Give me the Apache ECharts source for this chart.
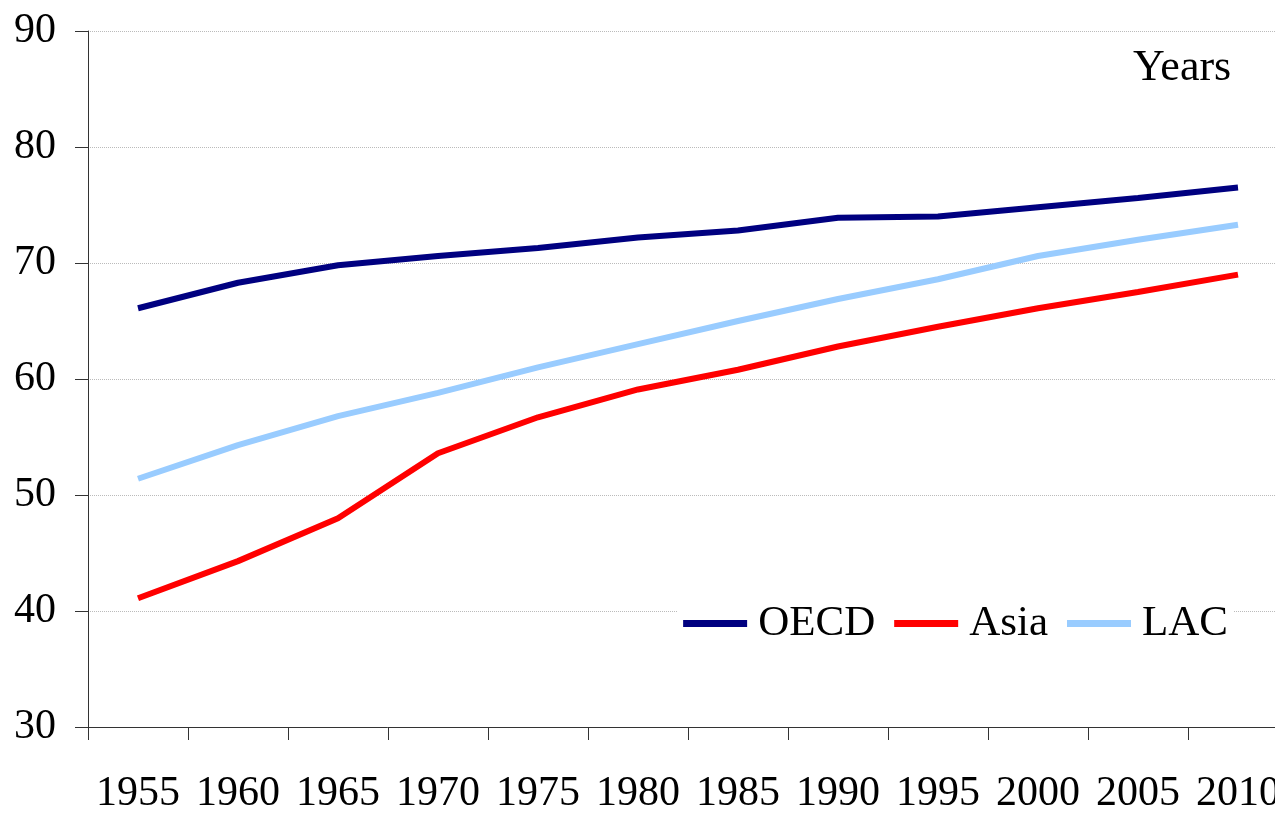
<!DOCTYPE html>
<html><head><meta charset="utf-8">
<script src="https://cdn.jsdelivr.net/npm/echarts@6/dist/echarts.min.js"></script>
<style>html,body{margin:0;padding:0;background:#fff;overflow:hidden;width:1275px;height:815px}
#wrap{width:1275px;height:815px;overflow:hidden;position:relative}
#c{position:absolute;left:0;top:0;width:1292px;height:815px}</style>
</head><body><div id="wrap"><div id="c"></div></div>
<script>
const years = ['1955','1960','1965','1970','1975','1980','1985','1990','1995','2000','2005','2010'];
const oecd = [66.1, 68.3, 69.8, 70.6, 71.3, 72.2, 72.8, 73.9, 74.0, 74.8, 75.6, 76.5];
const asia = [41.1, 44.3, 48.0, 53.6, 56.7, 59.1, 60.8, 62.8, 64.5, 66.1, 67.5, 69.0];
const lac  = [51.4, 54.3, 56.8, 58.8, 61.0, 63.0, 65.0, 66.9, 68.6, 70.6, 72.0, 73.3];
const yTicks = {min: 30, max: 90, interval: 10};
const unitLabel = 'Years';

const font = '"Liberation Serif", "DejaVu Serif", serif';
const chart = echarts.init(document.getElementById('c'), null, {renderer: 'canvas', width: 1292, height: 815});
chart.setOption({
  animation: false,
  backgroundColor: '#fff',
  grid: {left: 88, top: 31, width: 1200, height: 702, containLabel: false},
  xAxis: {
    type: 'category', data: years, boundaryGap: true,
    axisLine: {show: true, lineStyle: {color: '#333', width: 1}},
    axisTick: {show: true, inside: false, length: 13, alignWithLabel: false, lineStyle: {color: '#333'}},
    axisLabel: {interval: 0, margin: 46, color: '#000', fontFamily: font, fontSize: 42},
    splitLine: {show: false}
  },
  yAxis: {
    type: 'value', min: yTicks.min, max: yTicks.max, interval: yTicks.interval,
    axisLine: {show: true, lineStyle: {color: '#333', width: 1}},
    axisTick: {show: true, inside: false, length: 13, lineStyle: {color: '#333'}},
    axisLabel: {margin: 32, color: '#000', fontFamily: font, fontSize: 42},
    splitLine: {show: true, lineStyle: {color: '#bbb', type: 'dotted', width: 1}}
  },
  legend: {
    right: 58, top: 600, orient: 'horizontal',
    backgroundColor: '#fff', padding: [2, 6],
    itemWidth: 64, itemHeight: 7, itemGap: 19,
    icon: 'rect',
    textStyle: {fontFamily: font, fontSize: 43, color: '#000', padding: [0, 0, 0, 6]},
    data: ['OECD', 'Asia', 'LAC']
  },
  graphic: [{
    type: 'text', left: 1133, top: 46,
    style: {text: unitLabel, fontFamily: font, fontSize: 44, fill: '#000'}
  }],
  series: [
    {name: 'OECD', type: 'line', data: oecd, symbol: 'none', lineStyle: {color: '#000080', width: 6}, itemStyle: {color: '#000080'}},
    {name: 'Asia', type: 'line', data: asia, symbol: 'none', lineStyle: {color: '#ff0000', width: 6}, itemStyle: {color: '#ff0000'}},
    {name: 'LAC', type: 'line', data: lac, symbol: 'none', lineStyle: {color: '#99ccff', width: 6}, itemStyle: {color: '#99ccff'}}
  ]
});
</script></body></html>
